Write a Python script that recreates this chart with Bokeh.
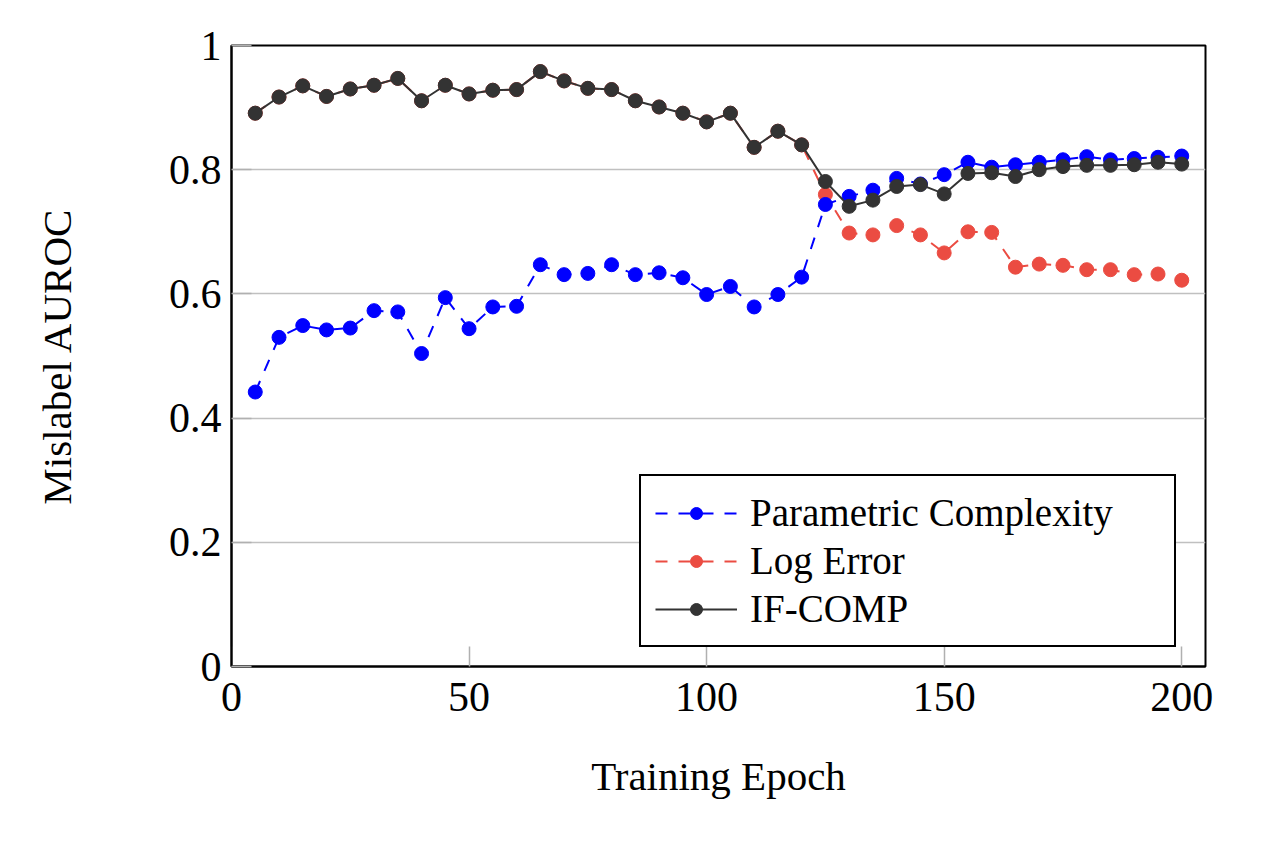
from bokeh.plotting import figure
from bokeh.models import Range1d, FixedTicker, CustomJSTickFormatter, Legend, LegendItem
from bokeh.embed import file_html
from bokeh.resources import INLINE

epochs = [5, 10, 15, 20, 25, 30, 35, 40, 45, 50, 55, 60, 65, 70, 75, 80, 85, 90, 95, 100,
          105, 110, 115, 120, 125, 130, 135, 140, 145, 150, 155, 160, 165, 170, 175, 180, 185, 190, 195, 200]

param_complexity = [0.442, 0.530, 0.549, 0.542, 0.545, 0.573, 0.571, 0.504, 0.594, 0.544,
                    0.579, 0.580, 0.647, 0.631, 0.633, 0.647, 0.631, 0.634, 0.626, 0.599,
                    0.612, 0.579, 0.599, 0.627, 0.744, 0.757, 0.767, 0.786, 0.777, 0.792,
                    0.812, 0.804, 0.808, 0.812, 0.816, 0.821, 0.816, 0.818, 0.820, 0.822]

log_error = [0.891, 0.917, 0.935, 0.918, 0.930, 0.936, 0.947, 0.911, 0.936, 0.922,
             0.928, 0.929, 0.958, 0.943, 0.931, 0.929, 0.911, 0.901, 0.891, 0.877,
             0.891, 0.836, 0.862, 0.840, 0.760, 0.698, 0.695, 0.710, 0.695, 0.666,
             0.700, 0.699, 0.643, 0.648, 0.646, 0.639, 0.639, 0.631, 0.632, 0.622]

if_comp = [0.891, 0.917, 0.935, 0.918, 0.930, 0.936, 0.947, 0.911, 0.936, 0.922,
           0.928, 0.929, 0.958, 0.943, 0.931, 0.929, 0.911, 0.901, 0.891, 0.877,
           0.891, 0.836, 0.862, 0.840, 0.781, 0.741, 0.751, 0.773, 0.776, 0.761,
           0.794, 0.795, 0.789, 0.800, 0.805, 0.807, 0.807, 0.808, 0.812, 0.809]

series_names = ["Parametric Complexity", "Log Error", "IF-COMP"]
x_ticks = [0, 50, 100, 150, 200]
y_ticks = [0, 0.2, 0.4, 0.6, 0.8, 1.0]

FONT = "Liberation Serif"
BLUE = "#0000FF"
RED = "#EB4C42"
DARK = "#333333"

p = figure(width=1250, height=826, output_backend="svg", toolbar_location=None,
           x_range=Range1d(0, 205), y_range=Range1d(0, 1),
           min_border_left=231, min_border_right=45, min_border_top=45, min_border_bottom=160)

p.outline_line_color = "black"
p.outline_line_width = 2
p.outline_line_alpha = 1
p.background_fill_color = "white"
p.border_fill_color = "white"

p.xgrid.grid_line_color = None
p.ygrid.grid_line_color = "#c0c0c0"
p.ygrid.grid_line_width = 1.5

p.xaxis.ticker = FixedTicker(ticks=x_ticks)
p.yaxis.ticker = FixedTicker(ticks=y_ticks)
p.yaxis.formatter = CustomJSTickFormatter(code="return tick.toFixed(1).replace(/\\.0$/, '');")

for ax in (p.xaxis, p.yaxis):
    ax.axis_line_color = "black"
    ax.axis_line_width = 2
    ax.major_tick_in = 20
    ax.major_tick_out = 0
    ax.major_tick_line_color = "#b0b0b0"
    ax.major_tick_line_width = 1.5
    ax.minor_tick_line_color = None
    ax.major_label_text_font = FONT
    ax.major_label_text_font_size = "42px"
    ax.major_label_text_color = "black"
    ax.axis_label_text_font = FONT
    ax.axis_label_text_font_size = "41px"
    ax.axis_label_text_font_style = "normal"
    ax.axis_label_text_color = "black"

p.xaxis.axis_label = "Training Epoch"
p.yaxis.axis_label = "Mislabel AUROC"
p.xaxis.major_label_standoff = 16
p.yaxis.major_label_standoff = 10
p.xaxis.axis_label_standoff = 39
p.yaxis.axis_label_standoff = 86

# Draw order: log error first (underneath), then parametric complexity, then IF-COMP on top
l_red = p.line(epochs, log_error, line_color=RED, line_width=2, line_dash="12 11")
s_red = p.scatter(epochs, log_error, size=14, fill_color=RED, line_color=RED)
l_blue = p.line(epochs, param_complexity, line_color=BLUE, line_width=2, line_dash="12 11")
s_blue = p.scatter(epochs, param_complexity, size=14, fill_color=BLUE, line_color=BLUE)
l_dark = p.line(epochs, if_comp, line_color=DARK, line_width=2)
s_dark = p.scatter(epochs, if_comp, size=14, fill_color=DARK, line_color=DARK)

legend = Legend(items=[
    LegendItem(label=series_names[0], renderers=[l_blue, s_blue]),
    LegendItem(label=series_names[1], renderers=[l_red, s_red]),
    LegendItem(label=series_names[2], renderers=[l_dark, s_dark]),
], location=(408, 19))
legend.label_text_font = FONT
legend.label_text_font_size = "39px"
legend.label_text_color = "black"
legend.label_standoff = 13
legend.label_width = 410
legend.glyph_width = 82
legend.glyph_height = 30
legend.spacing = 3
legend.padding = 14
legend.margin = 0
legend.border_line_color = "black"
legend.border_line_width = 2
legend.border_line_alpha = 1
legend.background_fill_color = "white"
legend.background_fill_alpha = 1
p.add_layout(legend, "center")

open("out.html", "w").write(file_html(p, INLINE))
